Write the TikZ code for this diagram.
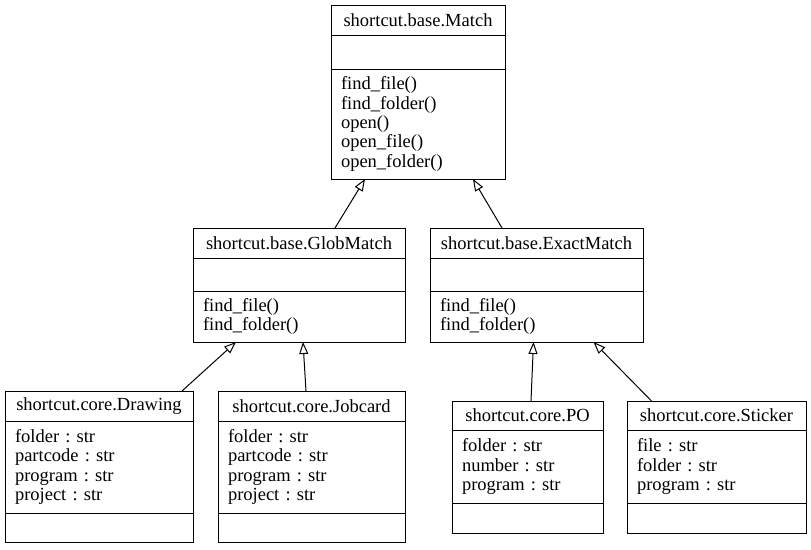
\documentclass[tikz,border=0pt]{standalone}
\usepackage{fontspec}
\setmainfont{Liberation Serif}
\usetikzlibrary{positioning,arrows.meta}
\tikzset{
  umlfont/.style={font=\fontsize{18.5pt}{19.35pt}\selectfont\frenchspacing},
  classtitle/.style={draw, line width=1pt, umlfont, inner sep=0pt, outer sep=0pt,
    anchor=north, minimum width=#1+20pt, minimum height=30pt},
  compart/.style={draw, line width=1pt, umlfont, inner xsep=10pt, inner ysep=0pt,
    outer sep=0pt, align=left, text width=#1},
  isa/.style={line width=1pt, -{Triangle[open,length=12pt,width=9pt]}}
}
\begin{document}
\begin{tikzpicture}[x=1pt,y=1pt]
  \useasboundingbox (0,0) rectangle (811,-549);
  % base class
  \node[classtitle=154pt] (match) at (418,-5) {shortcut.base.Match};
  \node[compart=154pt, minimum height=34pt, below=0pt of match] (match-attr) {};
  \node[compart=154pt, minimum height=110pt, below=0pt of match-attr] (match-ops)
    {find\_file()\\find\_folder()\\open()\\open\_file()\\open\_folder()};
  % middle layer
  \node[classtitle=192pt] (glob) at (299,-228) {shortcut.base.GlobMatch};
  \node[compart=192pt, minimum height=33pt, below=0pt of glob] (glob-attr) {};
  \node[compart=192pt, minimum height=51pt, below=0pt of glob-attr] (glob-ops)
    {find\_file()\\find\_folder()};
  \node[classtitle=193pt] (exact) at (536.5,-228) {shortcut.base.ExactMatch};
  \node[compart=193pt, minimum height=33pt, below=0pt of exact] (exact-attr) {};
  \node[compart=193pt, minimum height=51pt, below=0pt of exact-attr] (exact-ops)
    {find\_file()\\find\_folder()};
  % core classes
  \node[classtitle=168pt] (drawing) at (99,-391) {shortcut.core.Drawing};
  \node[compart=168pt, minimum height=92pt, below=0pt of drawing] (drawing-attr)
    {folder : str\\partcode : str\\program : str\\project : str};
  \node[compart=168pt, minimum height=29pt, below=0pt of drawing-attr] (drawing-ops) {};
  \node[classtitle=167pt] (jobcard) at (311.5,-391) {shortcut.core.Jobcard};
  \node[compart=167pt, minimum height=92pt, below=0pt of jobcard] (jobcard-attr)
    {folder : str\\partcode : str\\program : str\\project : str};
  \node[compart=167pt, minimum height=29pt, below=0pt of jobcard-attr] (jobcard-ops) {};
  \node[classtitle=131pt, minimum height=29pt] (po) at (527.5,-401) {shortcut.core.PO};
  \node[compart=131pt, minimum height=73pt, below=0pt of po] (po-attr)
    {folder : str\\number : str\\program : str};
  \node[compart=131pt, minimum height=30pt, below=0pt of po-attr] (po-ops) {};
  \node[classtitle=159pt, minimum height=29pt] (sticker) at (716.5,-401) {shortcut.core.Sticker};
  \node[compart=159pt, minimum height=73pt, below=0pt of sticker] (sticker-attr)
    {file : str\\folder : str\\program : str};
  \node[compart=159pt, minimum height=30pt, below=0pt of sticker-attr] (sticker-ops) {};
  % inheritance
  \draw[isa] ([xshift=36pt]glob.north) -- ([xshift=-53pt]match-ops.south);
  \draw[isa] ([xshift=-34.5pt]exact.north) -- ([xshift=55pt]match-ops.south);
  \draw[isa] ([xshift=83pt]drawing.north) -- ([xshift=-63pt]glob-ops.south);
  \draw[isa] ([xshift=-5.5pt]jobcard.north) -- ([xshift=4pt]glob-ops.south);
  \draw[isa] ([xshift=3.5pt]po.north) -- ([xshift=-3pt]exact-ops.south);
  \draw[isa] ([xshift=-65pt]sticker.north) -- ([xshift=57pt]exact-ops.south);
\end{tikzpicture}
\end{document}
